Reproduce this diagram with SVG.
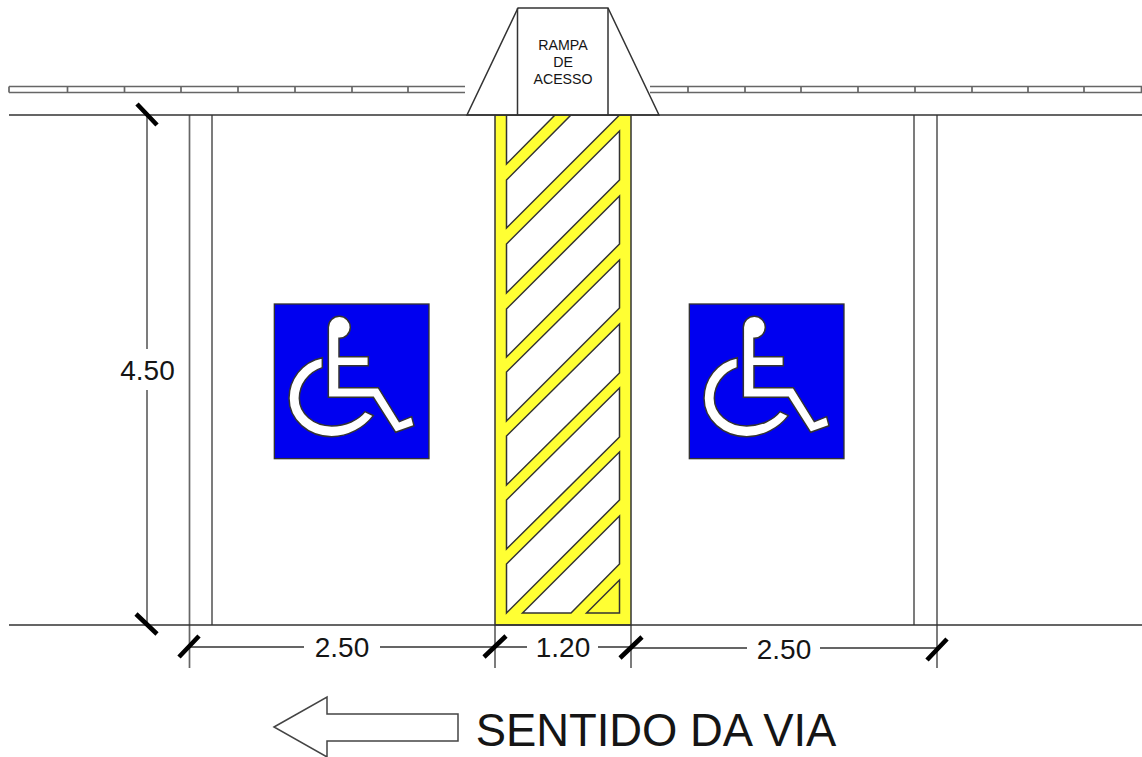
<svg xmlns="http://www.w3.org/2000/svg" width="1142" height="757" viewBox="0 0 1142 757">
<style>
.l{fill:none;stroke:#333;stroke-width:1.5}
.g{fill:none;stroke:#666;stroke-width:1.7}
.t{stroke:#000;stroke-width:4.6;stroke-linecap:butt}
text{font-family:"Liberation Sans",Arial,sans-serif;fill:#151515;text-anchor:middle}
.d{font-size:28px}
.r{font-size:14.200px}
</style>
<defs>
<g id="wc">
<rect x="28" y="27" width="464" height="464" fill="#0000f0" stroke="#333" stroke-width="4"/>
<path fill="#fff" stroke="#333" stroke-width="4.500" d="M190 97A33 33 0 1 1 222 130V185H310V212H222V278H340L403 380L440 365L447 392L392 412L325 307H190Z"/>
<path fill="#fff" stroke="#333" stroke-width="4.500" d="M172 188C110 200 72 255 72 310C72 375 130 425 200 425C250 425 298 398 325 362L300 350C280 375 242 393 200 393C145 393 103 355 103 310C103 270 130 232 172 218Z"/>
</g>
</defs>
<rect width="1142" height="757" fill="#fff"/>
<g id="calcada">
<path class="g" d="M9 86.500H465M9 92.500H465M9 86.500V92.500M67.500 86.500V92.500M124.500 86.500V92.500M181 86.500V92.500M238 86.500V92.500M295 86.500V92.500M352 86.500V92.500M408 86.500V92.500"/>
<path class="g" d="M650 86.500H1142M650 92.500H1142M688 86.500V92.500M745 86.500V92.500M801 86.500V92.500M858 86.500V92.500M915 86.500V92.500M972 86.500V92.500M1028 86.500V92.500M1084 86.500V92.500M1141.500 86.500V92.500"/>
</g>
<g id="vaga-linhas">
<path class="g" d="M189.500 115V668M212 115V625M914 115V625M937 115V668M147 115V349M147 390V625M495 625V668M631 625V668"/>
</g>
<g id="faixa">
<rect x="495" y="115" width="136" height="510" fill="#ffff33" stroke="#333" stroke-width="1.500"/>
<path fill="#fff" stroke="#333" stroke-width="1.500" d="M506.500 115H555L506.500 164ZM506.500 180L571 115H619.500L506.500 228ZM506.500 244L619.500 131V180L506.500 293ZM506.500 309L619.500 196V244L506.500 357ZM506.500 372L619.500 260V308L506.500 421ZM506.500 436L619.500 324V373L506.500 485ZM506.500 500L619.500 388V437L506.500 549ZM506.500 564L619.500 452V500L506.500 613ZM522.500 613L619.500 516V564L571 613Z"/>
<path fill="#ffff33" stroke="#333" stroke-width="1.500" d="M586.500 613L619.500 580V613Z"/>
</g>
<g id="rampa">
<path d="M518 8H608L659 115H467Z" fill="#fff" stroke="#333" stroke-width="1.500"/>
<path class="l" d="M517.500 8V115M608 8V115"/>
<text class="r" x="563" y="50">RAMPA</text>
<text class="r" x="563" y="67">DE</text>
<text class="r" x="563" y="84">ACESSO</text>
</g>
<g id="meio-fio">
<path class="l" d="M9 115H1142M9 625H1142"/>
</g>
<g id="simbolo-1"><use href="#wc" transform="translate(265 295) scale(.3333)"/></g>
<g id="simbolo-2"><use href="#wc" transform="translate(680 295) scale(.3333)"/></g>
<g id="cotas">
<path class="l" d="M189 647H304M380 647H495M495 647H527M598 647H631M631 648H747M820 648H937"/>
<path class="t" d="M137 104L157 125M136 614L157 634M179 657L199 636M484 657L506 636M620 658L642 637M927 660L947 639"/>
<text class="d" x="147.500" y="380">4.50</text>
<text class="d" x="342" y="657">2.50</text>
<text class="d" x="563" y="657">1.20</text>
<text class="d" x="784" y="659">2.50</text>
</g>
<g id="sentido">
<path d="M274 727L327 697V714H458V741H327V757Z" fill="#fff" stroke="#444" stroke-width="1.500"/>
<text x="656" y="746" font-size="45.400">SENTIDO DA VIA</text>
</g>
</svg>
